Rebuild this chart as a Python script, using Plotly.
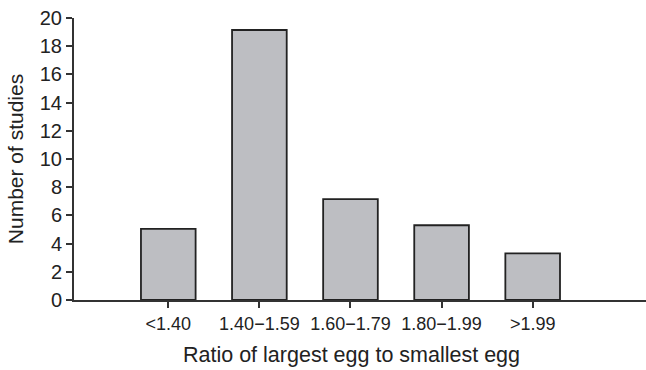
import plotly.graph_objects as go

categories = ["<1.40", "1.40\u22121.59", "1.60\u22121.79", "1.80\u22121.99", ">1.99"]
studies = [5.05, 19.15, 7.15, 5.3, 3.3]
y_ticks = list(range(0, 21, 2))
x_title = "Ratio of largest egg to smallest egg"
y_title = "Number of studies"

FONT = "Liberation Sans, Arial, sans-serif"

fig = go.Figure(
    go.Bar(
        x=list(range(len(categories))),
        y=studies,
        width=0.6,
        marker=dict(color="#bdbec2", line=dict(color="#222222", width=1.8)),
    )
)

fig.update_layout(
    width=646,
    height=370,
    margin=dict(l=74, r=0, t=18, b=70),
    plot_bgcolor="white",
    paper_bgcolor="white",
    showlegend=False,
    font=dict(family=FONT, size=20, color="#222222"),
    annotations=[
        dict(
            text=x_title,
            xref="paper",
            yref="paper",
            x=0.486,
            y=-0.195,
            xanchor="center",
            yanchor="middle",
            showarrow=False,
            font=dict(size=21.5, color="#222222"),
        )
    ],
)

fig.update_xaxes(
    range=[-1.035, 5.244],
    tickmode="array",
    tickvals=list(range(len(categories))),
    ticktext=categories,
    ticks="outside",
    ticklen=6,
    tickwidth=1.5,
    tickcolor="#333333",
    showline=True,
    linecolor="#333333",
    linewidth=2,
    showgrid=False,
    zeroline=False,
    tickfont=dict(size=18),
)

fig.update_yaxes(
    range=[0, 20],
    tickmode="array",
    tickvals=y_ticks,
    ticks="outside",
    ticklen=6,
    tickwidth=1.5,
    tickcolor="#333333",
    showline=True,
    linecolor="#333333",
    linewidth=2,
    showgrid=False,
    zeroline=False,
    tickfont=dict(size=20),
    title=dict(text=y_title, font=dict(size=21), standoff=10),
)

fig.write_html(
    "out.html",
    config={"displayModeBar": False},
    post_script="document.body.style.margin='0';",
)
